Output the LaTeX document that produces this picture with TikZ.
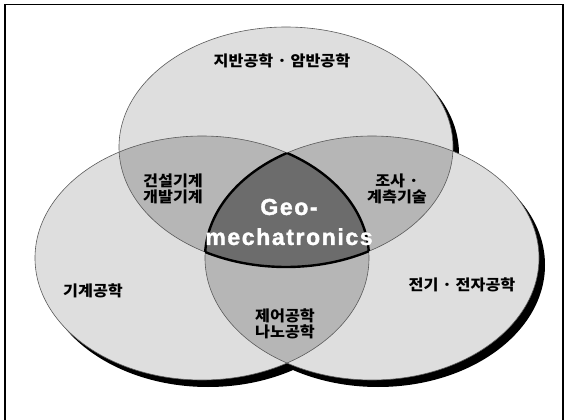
\documentclass[tikz,border=0pt]{standalone}
\usepackage{fontspec}
\newfontfamily\kor{Noto Sans CJK KR}[BoldFont={Noto Sans CJK KR Black}, FakeStretch=1.08]
\newfontfamily\geofont{Liberation Sans}[BoldFont={Liberation Sans Bold}, BoldFeatures={FakeBold=1.6}, LetterSpace=7]
\usepackage{tikz}
\definecolor{onegray}{HTML}{DEDEDE}
\definecolor{twogray}{HTML}{B6B6B6}
\definecolor{coregray}{HTML}{6C6C6C}
\definecolor{edgegray}{HTML}{5A5A5A}

\tikzset{
  lbl/.style={font=\kor\bfseries\fontsize{15}{15.5}\selectfont, align=center, inner sep=0pt},
  geolbl/.style={font=\geofont\bfseries\fontsize{23}{30}\selectfont, align=center, text=white, inner sep=0pt},
  rim/.style={edgegray, line width=0.6pt},
  corerim/.style={black, line width=2.4pt}
}

\begin{document}
\begin{tikzpicture}[x=1pt,y=-1pt]
\useasboundingbox (0,0) rectangle (566,420);

% Frame
\draw[line width=1.2pt] (5,420) -- (5,4.5) -- (563,4.5) -- (563,420);

% Centres of the three fields
\coordinate (top) at (286,147);
\coordinate (left) at (202,258);
\coordinate (right) at (372,258);

% Shadows
\fill[black] ([shift={(6,7)}]top) ellipse (167 and 120);
\fill[black] ([shift={(6,7)}]left) ellipse (167 and 122);
\fill[black] ([shift={(6,7)}]right) ellipse (167 and 122);

% Fields
\fill[onegray] (top) ellipse (167 and 120);
\fill[onegray] (left) ellipse (167 and 122);
\fill[onegray] (right) ellipse (167 and 122);

% Overlaps of two
\begin{scope}
  \clip (top) ellipse (167 and 120);
  \fill[twogray] (left) ellipse (167 and 122);
  \fill[twogray] (right) ellipse (167 and 122);
\end{scope}
\begin{scope}
  \clip (left) ellipse (167 and 122);
  \fill[twogray] (right) ellipse (167 and 122);
\end{scope}

% Overlap of all three
\begin{scope}
  \clip (top) ellipse (167 and 120);
  \clip (left) ellipse (167 and 122);
  \fill[coregray] (right) ellipse (167 and 122);
\end{scope}

% Outlines
\draw[rim] (top) ellipse (167 and 120);
\draw[rim] (left) ellipse (167 and 122);
\draw[rim] (right) ellipse (167 and 122);

% Core outline
\begin{scope}
  \clip (top) ellipse (167 and 120);
  \clip (left) ellipse (167 and 122);
  \draw[corerim] (right) ellipse (167 and 122);
\end{scope}
\begin{scope}
  \clip (top) ellipse (167 and 120);
  \clip (right) ellipse (167 and 122);
  \draw[corerim] (left) ellipse (167 and 122);
\end{scope}
\begin{scope}
  \clip (left) ellipse (167 and 122);
  \clip (right) ellipse (167 and 122);
  \draw[corerim] (top) ellipse (167 and 120);
\end{scope}

% Labels
\node[lbl] (soil) at (282,61) {지반공학 · 암반공학};
\node[lbl] (mech) at (93,291) {기계공학};
\node[lbl] (elec) at (462,285) {전기 · 전자공학};
\node[lbl] (constr) at (173,189) {건설기계\\개발기계};
\node[lbl] (survey) at (397,189) {조사 ·\\계측기술};
\node[lbl] (ctrl) at (285,324) {제어공학\\나노공학};
\node[geolbl] (geo) at (289,222) {Geo-\\mechatronics};

\end{tikzpicture}
\end{document}
